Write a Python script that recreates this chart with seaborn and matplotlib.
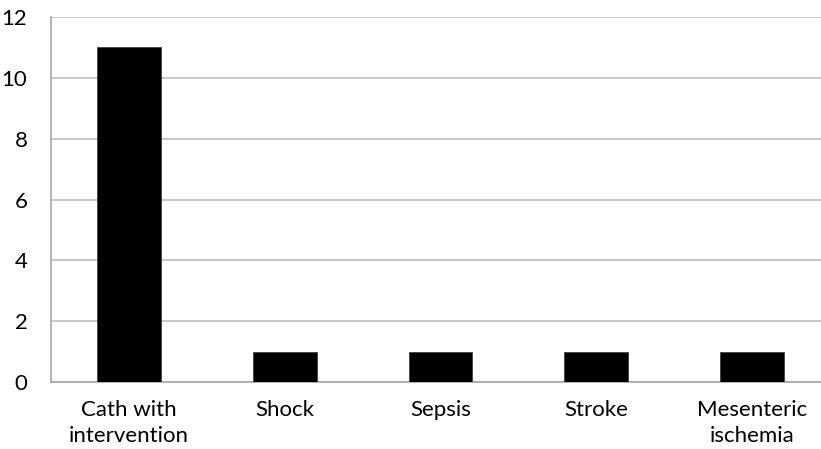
import numpy as np
import pandas as pd
import seaborn as sns
from matplotlib import pyplot as plt
from matplotlib.ticker import FixedLocator

categories = ["Cath with\nintervention", "Shock", "Sepsis", "Stroke", "Mesenteric\nischemia"]
counts = [11, 1, 1, 1, 1]

df = pd.DataFrame({"category": categories, "count": counts})

sns.set_style("white")
plt.rcParams["font.family"] = ["Lato", "DejaVu Sans"]

fig = plt.figure(figsize=(8.21, 4.49), dpi=100)
ax = fig.add_axes([51 / 821, 67 / 449, 779 / 821, 365 / 449])

sns.barplot(data=df, x="category", y="count", color="black", width=0.41,
            saturation=1, ax=ax, zorder=3, edgecolor="#404040", linewidth=0.6)

ax.set_xlim(-0.5, len(categories) - 0.5)
ax.set_ylim(0, 12)
ax.set_yticks(range(0, 13, 2))
ax.yaxis.grid(True, color="#bfbfbf", linewidth=1.2, zorder=0)
ax.set_axisbelow(True)

for side in ["top", "right"]:
    ax.spines[side].set_visible(False)
for side in ["left", "bottom"]:
    ax.spines[side].set_color("#a6a6a6")
    ax.spines[side].set_linewidth(1.2)

ax.xaxis.set_minor_locator(FixedLocator(np.arange(-0.5, len(categories), 1.0)))
ax.tick_params(axis="x", which="major", length=0, labelsize=16, pad=13, colors="#000000")
ax.tick_params(axis="x", which="minor", length=7, width=1.2, color="#a6a6a6", direction="out")
ax.tick_params(axis="y", length=7, width=1.2, color="#a6a6a6", labelsize=16, pad=10,
               labelcolor="#000000")
for lbl in ax.get_xticklabels():
    lbl.set_linespacing(1.4)
ax.set_xlabel("")
ax.set_ylabel("")

fig.savefig("out.png", dpi=100)
